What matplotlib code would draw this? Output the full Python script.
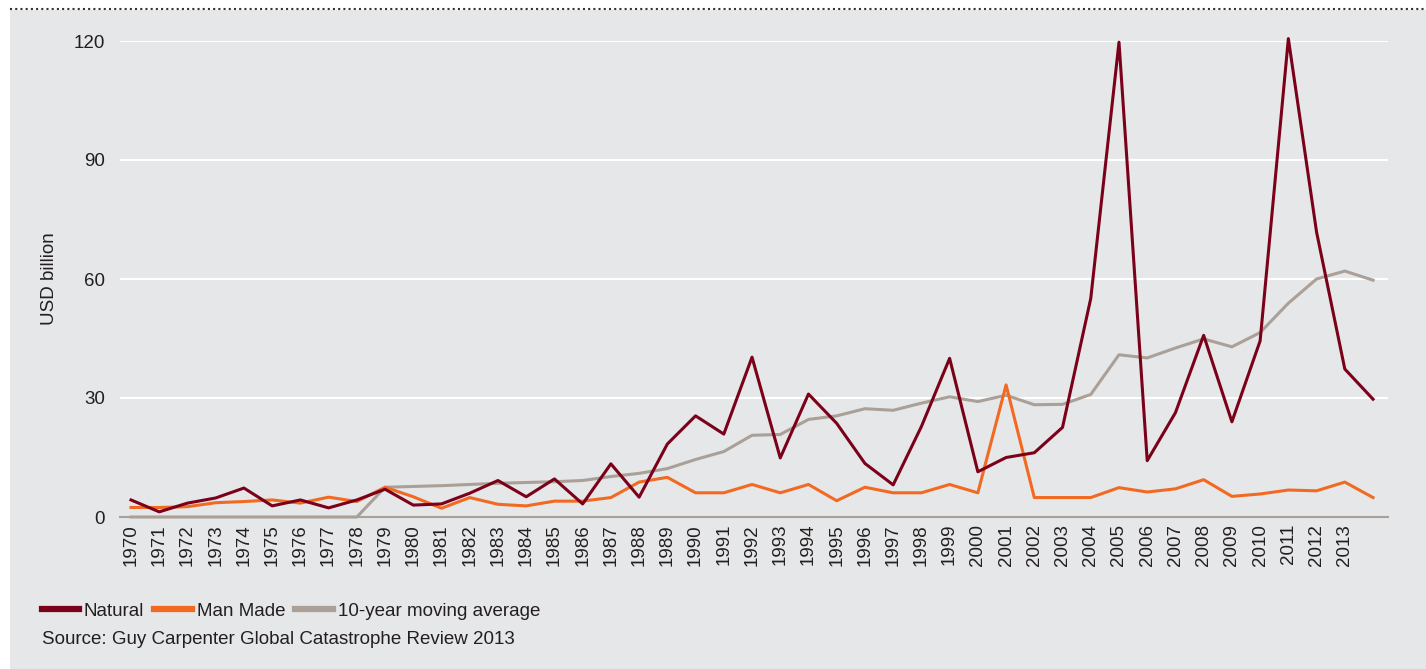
import matplotlib.pyplot as plt
from matplotlib.lines import Line2D
from matplotlib.patches import Rectangle

plt.rcParams["font.family"] = ["Liberation Sans", "DejaVu Sans"]

years = list(range(1970, 2015))
tick_years = list(range(1970, 2014))

natural = [4.3, 1.3, 3.5, 4.8, 7.3, 2.8, 4.3, 2.3, 4.3, 7.0,
           3.0, 3.3, 6.0, 9.2, 5.1, 9.6, 3.3, 13.4, 5.0, 18.4,
           25.5, 20.9, 40.3, 14.9, 31.0, 23.6, 13.5, 8.1, 22.8, 40.0,
           11.4, 15.0, 16.2, 22.6, 55.1, 119.7, 14.2, 26.3, 45.8, 24.0,
           44.4, 120.6, 71.8, 37.3, 29.7]

man_made = [2.4, 2.4, 2.6, 3.6, 3.9, 4.3, 3.5, 5.0, 3.9, 7.5,
            5.1, 2.2, 4.9, 3.2, 2.8, 4.0, 4.0, 4.9, 8.8, 10.0,
            6.1, 6.1, 8.2, 6.1, 8.2, 4.1, 7.5, 6.1, 6.1, 8.2,
            6.1, 33.3, 4.9, 4.9, 4.9, 7.4, 6.3, 7.1, 9.4, 5.2,
            5.8, 6.8, 6.6, 8.8, 4.9]

moving_avg = [0, 0, 0, 0, 0, 0, 0, 0, 0, 7.5,
              7.7, 7.9, 8.2, 8.5, 8.7, 8.9, 9.2, 10.2, 11.0, 12.2,
              14.5, 16.5, 20.6, 20.8, 24.6, 25.5, 27.3, 26.9, 28.7, 30.3,
              29.1, 30.7, 28.3, 28.4, 30.9, 40.9, 40.1, 42.6, 44.9, 42.9,
              46.5, 53.9, 60.0, 62.0, 59.7]

y_ticks = [0, 30, 60, 90, 120]

c_nat = "#7B0019"
c_man = "#F26A22"
c_avg = "#AAA098"
bg = "#E6E7E8"
txt = "#231F20"
fs = 13.5

W, H = 1426, 669
fig = plt.figure(figsize=(W / 100, H / 100), dpi=100)
fig.patch.set_facecolor("white")

# grey panel + dotted top rule
fig.patches.append(Rectangle((10 / W, 0), 1 - 10 / W, 1 - 10 / H,
                             transform=fig.transFigure, facecolor=bg,
                             edgecolor="none", zorder=-10))
fig.add_artist(Line2D([10 / W, 1], [1 - 9 / H, 1 - 9 / H], transform=fig.transFigure,
                      color="#333333", lw=1.5, linestyle=(0, (1, 1.5))))

ax = fig.add_axes([120 / W, 1 - 517 / H, (1388 - 120) / W, (517 - 41) / H])
ax.set_facecolor(bg)

ax.plot(years, moving_avg, color=c_avg, lw=2.2, clip_on=False, zorder=3)
ax.plot(years, man_made, color=c_man, lw=2.2, clip_on=False, zorder=4)
ax.plot(years, natural, color=c_nat, lw=2.2, clip_on=False, zorder=5)

ax.set_xlim(1969.61, 2014.53)
ax.set_ylim(0, 120)
ax.set_yticks(y_ticks)
ax.set_xticks(tick_years)
ax.set_xticklabels([str(y) for y in tick_years], rotation=90, fontsize=fs, color=txt)
ax.tick_params(axis="y", labelsize=fs, labelcolor=txt, length=0, pad=11)
ax.tick_params(axis="x", length=0, pad=5)
ax.grid(axis="y", color="white", lw=1.5)
ax.set_axisbelow(True)
for s in ["top", "right", "left"]:
    ax.spines[s].set_visible(False)
ax.spines["bottom"].set_color("#A8A09A")
ax.spines["bottom"].set_linewidth(1.5)

fig.text(50 / W, 1 - 279 / H, "USD billion", rotation=90, fontsize=fs,
         color=txt, ha="center", va="center")

handles = [Line2D([], [], color=c_nat, lw=4.5),
           Line2D([], [], color=c_man, lw=4.5),
           Line2D([], [], color=c_avg, lw=4.5)]
fig.legend(handles, ["Natural", "Man Made", "10-year moving average"],
           loc="center left", bbox_to_anchor=(34 / W, 1 - 611 / H), ncol=3,
           frameon=False, fontsize=fs, handlelength=2.0, handletextpad=0.25,
           columnspacing=0.55, labelcolor=txt, borderaxespad=0)

fig.text(42 / W, 1 - 640 / H, "Source: Guy Carpenter Global Catastrophe Review 2013",
         fontsize=fs, color=txt, ha="left", va="center")

fig.savefig("out.png", dpi=100, facecolor=fig.get_facecolor())
